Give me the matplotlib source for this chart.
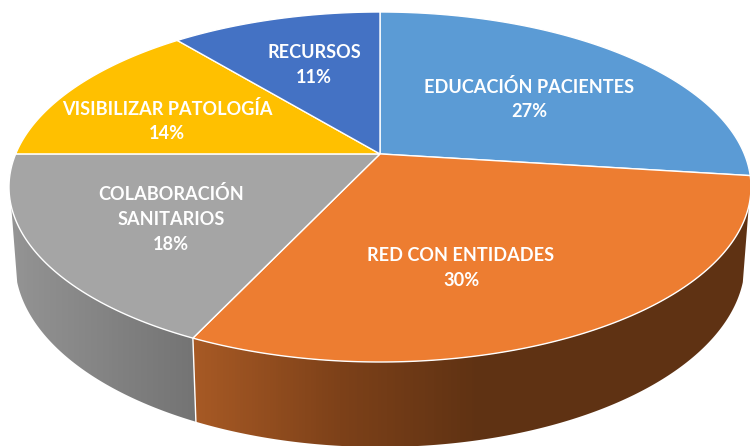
import numpy as np
import matplotlib
matplotlib.use('Agg')
import matplotlib.pyplot as plt
from matplotlib.colors import LinearSegmentedColormap
from matplotlib.patches import Polygon

# Datos del gráfico
categories = ['EDUCACIÓN PACIENTES', 'RED CON ENTIDADES', 'COLABORACIÓN\nSANITARIOS',
              'VISIBILIZAR PATOLOGÍA', 'RECURSOS']
values = [27, 30, 18, 14, 11]
colors = ['#5b9bd5', '#ed7d31', '#a5a5a5', '#ffc000', '#4472c4']
label_x = [529, 461, 171, 167, 314]
label_y = [99, 268, 219, 121, 65]

W, H = 750, 446
# elipse superior / inferior en pixeles, v0 = desplazamiento del centro por perspectiva
top_c = (380, 187, 371, 175)
bot_c = (380, 262, 365, 185)
v0 = 0.189


def project(theta, e):
    # theta medido desde arriba en sentido horario
    u = np.sin(theta)
    v = np.cos(theta)
    d = 1 + v0 * v
    uu = u * np.sqrt(1 - v0 ** 2) / d
    vv = (v + v0) / d
    return e[0] + e[2] * uu, e[1] - e[3] * vv


def center(e):
    return e[0], e[1] - e[3] * v0


def side(ax, t1, t2, cmap):
    t = np.linspace(t1, t2, 200)
    x1, y1 = project(t, top_c)
    x2, y2 = project(t[::-1], bot_c)
    poly = Polygon(np.c_[np.r_[x1, x2], np.r_[y1, y2]], closed=True, fc='none', ec='none')
    ax.add_patch(poly)
    grad = np.linspace(0, 1, W).reshape(1, -1)
    im = ax.imshow(grad, extent=(0, W, H, 0), cmap=cmap, aspect='auto', vmin=0, vmax=1, zorder=1)
    im.set_clip_path(poly)


fig = plt.figure(figsize=(7.5, 4.46), dpi=100)
ax = fig.add_axes([0, 0, 1, 1])
ax.set_xlim(0, W)
ax.set_ylim(H, 0)
ax.axis('off')

edges = np.r_[0, np.cumsum(values)] / np.sum(values) * 2 * np.pi

# caras laterales: solo naranja y gris se ven
orange_side = LinearSegmentedColormap.from_list('o', [(0, '#a85a25'), (192 / W, '#a85a25'),
                                                      (340 / W, '#7d4119'), (480 / W, '#5f3213'), (1, '#5f3213')])
gray_side = LinearSegmentedColormap.from_list('g', [(0, '#939393'), (15 / W, '#939393'),
                                                    (197 / W, '#737373'), (1, '#737373')])
side(ax, np.radians(107), edges[2], orange_side)
side(ax, edges[2], np.radians(253), gray_side)

# linea entre las dos caras
x_a, y_a = project(edges[2], top_c)
x_b, y_b = project(edges[2], bot_c)
ax.plot([x_a, x_b], [y_a, y_b], color='white', lw=1, zorder=2)

# cara superior
cx, cy = center(top_c)
for i in range(len(values)):
    t = np.linspace(edges[i], edges[i + 1], 150)
    x, y = project(t, top_c)
    ax.fill(np.r_[cx, x], np.r_[cy, y], facecolor=colors[i], edgecolor='white', lw=1, zorder=3)

for i in range(len(values)):
    ax.text(label_x[i], label_y[i], categories[i] + '\n' + str(values[i]) + '%',
            color='white', fontsize=13.1, fontweight='bold', family='Lato',
            ha='center', va='center', linespacing=1.55, zorder=4)

fig.savefig('out.png', dpi=100)
